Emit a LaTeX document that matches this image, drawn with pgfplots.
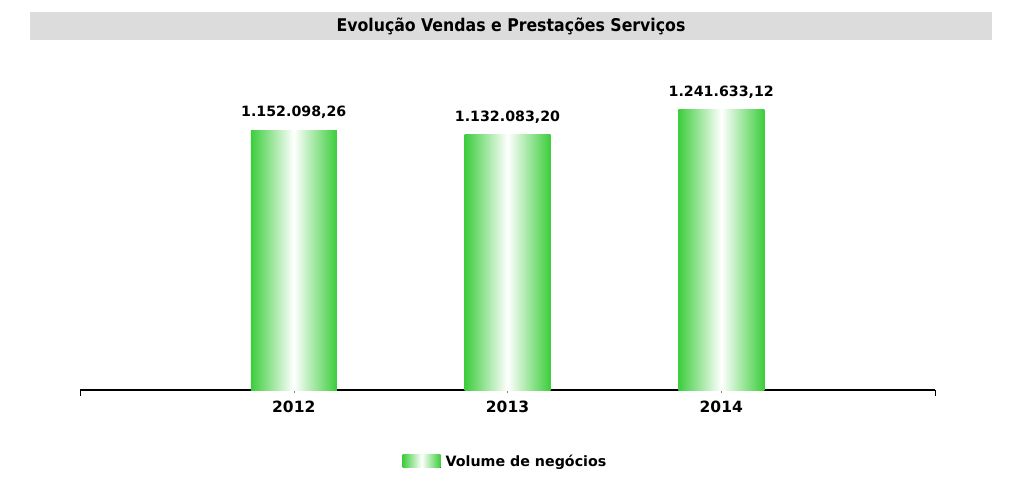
\documentclass[border=0pt]{standalone}
\usepackage{pgfplots}
\pgfplotsset{compat=1.18}
\usepackage{fontspec}
\setmainfont{DejaVu Sans}
\newfontfamily\condfont{DejaVu Sans Condensed}
\definecolor{barg}{RGB}{60,205,60}
\definecolor{titlegray}{RGB}{220,220,220}
\begin{document}
\begin{tikzpicture}[x=1pt,y=1pt]
\path (0,0) rectangle (1023,491);
\fill[titlegray] (30,451) rectangle (992,479);
\node[font=\condfont\bfseries\fontsize{17.5}{20}\selectfont] at (511,465) {Evolução Vendas e Prestações Serviços};
\begin{axis}[at={(80pt,101pt)}, anchor=south west, scale only axis,
  width=855pt, height=338.4pt,
  xmin=-1, xmax=3, ymin=0, ymax=1500000,
  axis y line=none, axis x line*=bottom,
  x axis line style={line width=1.8pt, black},
  xtick={0,1,2}, xticklabels={2012,2013,2014},
  major tick length=3pt, tick align=outside,
  tick style={gray, line width=0.5pt},
  extra x ticks={-1,3}, extra x tick labels={},
  extra x tick style={major tick length=6pt, tick align=outside, tick style={black, line width=0.8pt}},
  xticklabel style={font=\bfseries\fontsize{15.5}{18}\selectfont, yshift=-4pt},
  clip=false,
  legend style={draw=none, fill=none, at={(0.5,-0.21)}, anchor=center, xshift=-2pt,
    font=\bfseries\fontsize{14.25}{17}\selectfont},
  legend image code/.code={\fill[left color=barg,right color=barg,middle color=white] (0pt,-6.5pt) rectangle (38pt,6.5pt);},
  every node near coord/.style={font=\bfseries\fontsize{14.2}{17}\selectfont, black, anchor=south, yshift=8pt},
]
\addplot[ybar, bar width=86pt, bar shift=0pt, draw=none, left color=barg, right color=barg, middle color=white,
  nodes near coords, point meta=explicit symbolic]
  table[x=x, y=y, meta=label] {
x y label
0 1152098.26 {1.152.098,26}
};
\addlegendentry{\hspace{3pt}Volume de negócios}
\addplot[ybar, bar width=86pt, bar shift=0pt, draw=none, left color=barg, right color=barg, middle color=white,
  nodes near coords, point meta=explicit symbolic, forget plot]
  table[x=x, y=y, meta=label] {
x y label
1 1132083.20 {1.132.083,20}
};
\addplot[ybar, bar width=86pt, bar shift=0pt, draw=none, left color=barg, right color=barg, middle color=white,
  nodes near coords, point meta=explicit symbolic, forget plot]
  table[x=x, y=y, meta=label] {
x y label
2 1241633.12 {1.241.633,12}
};
\end{axis}
\end{tikzpicture}
\end{document}
